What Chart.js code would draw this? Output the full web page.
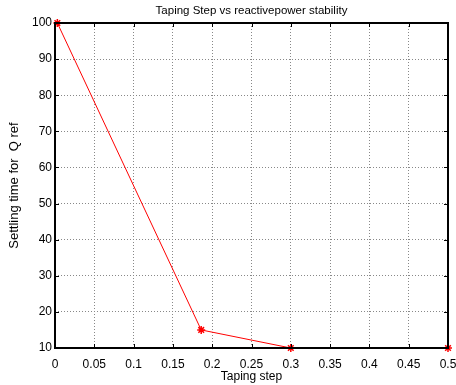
<!DOCTYPE html>
<html>
<head>
<meta charset="utf-8">
<script src="https://cdn.jsdelivr.net/npm/chart.js@4/dist/chart.umd.min.js"></script>
<style>
  html, body { margin: 0; padding: 0; background: #fff; }
  #wrap { width: 456px; height: 385px; }
</style>
</head>
<body>
<div id="wrap"><canvas id="chart"></canvas></div>
<script>
// values
var tapingStep = [0.003, 0.186, 0.3, 0.5];
var settlingTime = [100, 15, 10, 10];
var xTicks = [0, 0.05, 0.1, 0.15, 0.2, 0.25, 0.3, 0.35, 0.4, 0.45, 0.5];
var yTicks = [10, 20, 30, 40, 50, 60, 70, 80, 90, 100];
var chartTitle = 'Taping Step vs reactivepower stability';

var points = [];
for (var i = 0; i < tapingStep.length; i++) {
  points.push({ x: tapingStep[i], y: settlingTime[i] });
}

// box round the plot, small inward ticks and a title centred over the axes, matlab style
var boxPlugin = {
  id: 'box',
  afterDraw: function(chart) {
    var ctx = chart.ctx, a = chart.chartArea;
    var xs = chart.scales.x, ys = chart.scales.y;
    ctx.save();
    ctx.strokeStyle = '#000';
    ctx.lineWidth = 1;
    ctx.beginPath();
    xTicks.forEach(function(v) {
      var px = Math.round(xs.getPixelForValue(v)) + 0.5;
      ctx.moveTo(px, a.bottom); ctx.lineTo(px, a.bottom - 4);
      ctx.moveTo(px, a.top); ctx.lineTo(px, a.top + 4);
    });
    yTicks.forEach(function(v) {
      var py = Math.round(ys.getPixelForValue(v)) + 0.5;
      ctx.moveTo(a.left, py); ctx.lineTo(a.left + 4, py);
      ctx.moveTo(a.right, py); ctx.lineTo(a.right - 4, py);
    });
    ctx.stroke();
    ctx.lineWidth = 2;
    ctx.strokeRect(a.left, a.top, a.right - a.left, a.bottom - a.top);

    ctx.fillStyle = '#000';
    ctx.font = '11.5px "Liberation Sans"';
    ctx.textAlign = 'center';
    ctx.textBaseline = 'middle';
    ctx.fillText(chartTitle, (a.left + a.right) / 2, 11);
    ctx.restore();
  }
};

new Chart(document.getElementById('chart'), {
  type: 'scatter',
  data: {
    datasets: [{
      data: points,
      showLine: true,
      borderColor: '#ff0000',
      backgroundColor: '#ff0000',
      borderWidth: 1,
      pointStyle: 'star',
      pointRadius: 4,
      pointBorderWidth: 1.5,
      clip: false
    }]
  },
  options: {
    responsive: true,
    maintainAspectRatio: false,
    animation: false,
    layout: { padding: { left: 0, right: 0, top: 23, bottom: 0 } },
    plugins: {
      legend: { display: false },
      tooltip: { enabled: false },
      title: { display: false }
    },
    scales: {
      x: {
        type: 'linear',
        min: 0,
        max: 0.5,
        afterBuildTicks: function(scale) {
          scale.ticks = xTicks.map(function(v) { return { value: v }; });
        },
        afterFit: function(scale) {
          scale.height = 37;
          scale.paddingRight = 8;
          scale.paddingLeft = 0;
        },
        ticks: {
          color: '#000',
          padding: 9,
          maxRotation: 0,
          font: { family: 'Liberation Sans', size: 12 },
          callback: function(v) { return String(+v.toFixed(2)); }
        },
        grid: { color: '#888', lineWidth: 1, drawTicks: false },
        border: { display: false, dash: [1, 2] },
        title: {
          display: true,
          text: 'Taping step',
          color: '#000',
          font: { family: 'Liberation Sans', size: 12 },
          padding: { top: 0, bottom: 1 }
        }
      },
      y: {
        type: 'linear',
        min: 10,
        max: 100,
        afterBuildTicks: function(scale) {
          scale.ticks = yTicks.map(function(v) { return { value: v }; });
        },
        afterFit: function(scale) { scale.width = 55; },
        ticks: {
          color: '#000',
          padding: 3,
          font: { family: 'Liberation Sans', size: 12 }
        },
        grid: { color: '#888', lineWidth: 1, drawTicks: false },
        border: { display: false, dash: [1, 2] },
        title: {
          display: true,
          text: 'Settling time for  Q ref',
          color: '#000',
          font: { family: 'Liberation Sans', size: 13 },
          padding: { top: 7, bottom: 4 }
        }
      }
    }
  },
  plugins: [boxPlugin]
});
</script>
</body>
</html>
